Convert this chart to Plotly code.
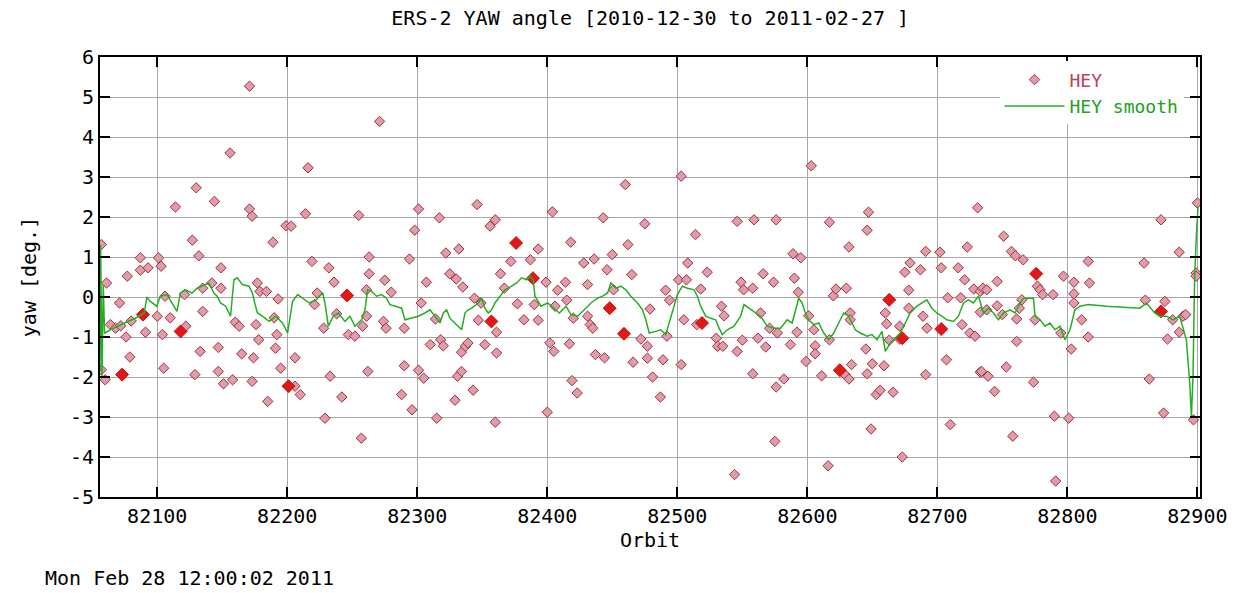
import plotly.graph_objects as go

# ---------------- data ----------------
hey_orbit = [
    82057, 82057, 82060, 82061, 82064, 82068, 82071, 82072, 82073, 82076, 82077, 82079, 82080,
    82087, 82087, 82089, 82091, 82093, 82100, 82101, 82103, 82104, 82105, 82106, 82110, 82114,
    82118, 82121, 82122, 82127, 82129, 82130, 82132, 82133, 82135, 82135, 82142, 82144, 82147,
    82147, 82149, 82149, 82151, 82156, 82158, 82160, 82163, 82165, 82171, 82171, 82173, 82173,
    82174, 82176, 82177, 82178, 82179, 82184, 82185, 82189, 82190, 82191, 82192, 82193, 82195,
    82199, 82201, 82203, 82206, 82206, 82210, 82214, 82216, 82219, 82221, 82223, 82229, 82228,
    82232, 82233, 82236, 82238, 82242, 82246, 82247, 82252, 82255, 82257, 82258, 82261, 82261,
    82262, 82263, 82263, 82271, 82274, 82275, 82276, 82280, 82288, 82290, 82290, 82294, 82296,
    82298, 82301, 82301, 82303, 82305, 82307, 82310, 82314, 82315, 82317, 82318, 82320, 82322,
    82325, 82329, 82330, 82331, 82332, 82334, 82334, 82335, 82337, 82339, 82343, 82344, 82346,
    82347, 82349, 82352, 82356, 82357, 82360, 82360, 82361, 82361, 82364, 82367, 82372, 82376,
    82377, 82382, 82387, 82389, 82390, 82393, 82393,
    82399, 82400, 82402, 82404, 82405, 82406, 82408, 82414, 82415, 82417, 82418, 82419, 82420,
    82423, 82428, 82431, 82431, 82433, 82435, 82436, 82437, 82443, 82444, 82446, 82448, 82450,
    82451, 82459, 82460, 82462, 82465, 82466, 82472, 82475, 82477, 82477, 82479, 82481, 82487,
    82489, 82491, 82492, 82494, 82501, 82503, 82503, 82505, 82507, 82508, 82514, 82515, 82518,
    82519, 82523, 82530, 82531, 82534, 82535, 82536, 82544, 82546, 82546, 82549, 82550, 82551,
    82558, 82558, 82559, 82562, 82564,
    82566, 82568, 82571, 82574, 82575, 82576, 82576, 82577, 82582, 82587, 82589, 82590, 82592,
    82593, 82595, 82599, 82601, 82603, 82605, 82606, 82606, 82611, 82616, 82617, 82617, 82620,
    82622, 82625, 82629, 82630, 82632, 82632, 82633, 82633, 82634, 82645, 82646, 82646, 82647,
    82649, 82650, 82653, 82656, 82659, 82660, 82661, 82663, 82663, 82666, 82671, 82671, 82673,
    82673, 82675, 82678, 82678, 82679, 82687, 82689, 82691, 82691, 82692, 82702, 82703, 82703,
    82707, 82708, 82710, 82716, 82718, 82719, 82721, 82723, 82725, 82728, 82729, 82731, 82733,
    82733,
    82733, 82734, 82735, 82738, 82738, 82739, 82744, 82746, 82746, 82750, 82751, 82753, 82757,
    82758, 82760, 82761, 82761, 82763, 82765, 82766, 82774, 82775, 82776, 82777, 82779, 82781,
    82789, 82790, 82791, 82795, 82797, 82801, 82803, 82805, 82805, 82805, 82811, 82816, 82816,
    82817, 82859, 82860, 82863, 82872, 82872, 82874, 82875, 82877, 82881, 82886, 82886, 82889,
    82891, 82897, 82899, 82899, 82900,
]
hey_yaw = [
    1.31, -1.82, -2.07, 0.35, -0.69, -0.78, -0.15, -0.72, -1.94, -1.00, 0.52, -1.50, -0.60,
    0.98, 0.67, -0.44, -0.88, 0.73, -0.48, 0.98, 0.77, -0.94, -1.78, 0.02, -0.52, 2.25,
    -0.86, 0.06, -0.73, 1.42, -1.94, 2.73, 1.03, -1.36, 0.22, -0.36, 0.35, 2.39, -1.26,
    -1.86, 0.73, 0.22, -2.17, 3.60, -2.07, -0.63, -0.73, -1.42, 5.27, 2.20, 2.02, -2.11,
    -1.52, -0.69, 0.35, -1.07, 0.14, 0.14, -2.61, 1.37, -0.52, -1.28, -0.94, -0.05, -1.78,
    1.78, -2.23, 1.77, -2.23, -1.52, -2.44, 2.08, 3.23, 0.89, -0.19, 0.10, -3.03, -0.78,
    0.73, -1.98, 0.37, -0.42, -2.50, 0.04, -0.94, -0.98, 2.04, -3.53, -0.73, -0.48, 0.18,
    -1.86, 1.00, 0.58, 4.39, -0.61, 0.42, -0.78, 0.12, -2.44, -1.72, -0.78, 0.95, -2.82,
    1.67, 2.20, -1.83, -0.15, -2.03, 0.37, -1.19, -0.55, -3.03, 1.98, -1.07, -1.22, 1.10,
    0.58, -2.58, 0.45, -1.98, 1.20, -1.86, -1.38, 0.25, -1.23, -1.15, -2.33, -0.03, 2.31,
    -0.58, -0.15, -1.19, 1.77, -0.61, 1.93, -3.13, -0.88, -1.40, 0.58, 0.22, 0.89, 1.35,
    -0.17, -0.57, 0.93, 0.47, -0.19, 1.20, -0.58,
    0.37, -2.88, -1.15, 2.13, -1.36, -0.23, 0.17, 0.37, -0.08, -1.17, 1.37, -2.09, -0.53,
    -2.40, 0.85, 0.31, -0.48, -0.69, -0.78, 0.95, -1.44, 1.98, -1.52, 0.68, -0.28, 1.06,
    0.18, -0.92, 2.81, 1.31, 0.56, -1.63, -1.05, 1.83, -1.23, -1.53, -0.30, -2.00, -2.50,
    -1.57, 0.17, -0.98, -0.08, 0.43, 3.02, -1.69, -0.57, 0.43, 0.85, 1.56, -0.69, 0.20,
    -0.65, 0.62, -1.03, -1.23, -0.23, -1.23, -0.47, -4.44, 1.89, -1.36, 0.37, -1.08, 0.18,
    0.22, -1.92, 1.93, -1.03, -0.40,
    0.58, -1.25, -0.78, 0.37, -3.61, 1.93, -2.25, -0.90, -2.05, -1.19, 1.08, 0.47, -0.88,
    0.12, 0.98, -1.61, -0.47, 3.28, -0.82, -1.22, -1.42, -1.97, -4.22, -1.07, 1.87, 0.03,
    0.20, -1.83, -1.94, 0.22, 1.25, -2.05, -0.40, -0.57, -1.69, -1.30, 1.67, -1.92, 2.12,
    -3.30, -1.67, -2.44, -2.33, -1.72, -0.40, -0.67, -0.07, -1.08, -2.38, -1.05, -0.73, -1.03,
    -4.00, 0.62, 0.17, -0.28, 0.85, 0.68, -0.48, 1.14, -1.94, -0.78, 1.12, 0.73, -0.80,
    -1.57, -0.02, -3.19, 0.73, -0.02, -0.69, 0.43, 1.25, -0.90, 0.20, -0.98, 2.23, 0.14,
    -1.88,
    -0.38, -1.86, 0.22, -0.32, 0.18, -1.98, -2.36, 0.39, -0.22, -0.44, 1.52, -1.75, 1.14,
    -3.48, 1.03, -0.55, -1.11, -0.28, -0.07, 0.93, -2.13, -0.57, 0.58, 0.27, 0.18, 0.06,
    0.06, -2.98, -4.60, -0.90, 0.52, -3.03, -1.30, -0.15, 0.08, 0.37, -0.57, 0.89, -1.00,
    0.35, 0.85, -0.08, -2.05, 1.93, -0.36, -2.90, -0.11, -1.05, -0.57, 1.12, -0.88, -0.48,
    -0.44, -3.07, 0.60, 0.52, 2.35,
]

# points where several HEY samples overlap (drawn solid red in the reference)
dense_orbit = [82073, 82089, 82118, 82201, 82246, 82357, 82376, 82389, 82448, 82459,
               82519, 82625, 82663, 82673, 82703, 82776, 82872]
dense_yaw = [-1.94, -0.44, -0.86, -2.23, 0.04, -0.61, 1.35, 0.47, -0.28, -0.92,
             -0.65, -1.83, -0.07, -1.03, -0.80, 0.58, -0.36]

smooth_orbit = [
    82056.0, 82056.5, 82057.5, 82058.5, 82059.5, 82060, 82065, 82075, 82085, 82090, 82092,
    82094.6, 82099.7, 82102.3, 82107.5, 82115.2, 82117.8, 82121.6, 82126.8, 82130.7, 82134.5,
    82139.7, 82143.6, 82146.1, 82148.7, 82152.6, 82156.4, 82159.0, 82161.6, 82165.5, 82170.6,
    82173.2, 82175.3, 82177.1, 82180.9, 82186.1, 82191.2, 82196.4, 82200.3, 82204.1, 82208.0,
    82211.9, 82217.0, 82222.2, 82227.3,
    82229.0, 82231.6, 82235.4, 82239.2, 82244.4, 82248.2, 82252.1, 82257.2, 82259.8, 82261.8,
    82264.9, 82268.7, 82272.6, 82276.4, 82279.0, 82282.8, 82288.0, 82290.5, 82295.7, 82300.8,
    82305.9, 82309.8, 82313.6, 82317.5, 82320.0, 82322.6, 82325.1, 82329.0, 82331.6, 82334.1,
    82336.7, 82339.2, 82341.8, 82346.9, 82349.5, 82352.0, 82354.6, 82357.2, 82359.7, 82363.6,
    82367.5, 82372.6, 82376.4, 82380.3, 82384.1, 82386.7, 82389.2, 82390.5,
    82395.2, 82400.3, 82405.4, 82409.3, 82414.4, 82418.2, 82423.4, 82428.5, 82433.6, 82438.7,
    82442.5, 82446.4, 82448.9, 82452.8, 82456.6, 82460.4, 82464.3, 82469.4, 82473.2, 82475.8,
    82478.4, 82483.5, 82487.3, 82491.1, 82495.0, 82500.1, 82503.9, 82507.8, 82512.9, 82515.4,
    82518.0, 82521.8, 82525.7, 82529.5, 82532.1, 82534.6, 82538.5, 82543.6, 82548.7, 82551.3,
    82555.1, 82560.2,
    82564.0, 82569.1, 82574.2, 82579.4, 82584.5, 82588.3, 82590.9, 82593.4, 82596.0, 82598.5,
    82601.1, 82604.9, 82608.8, 82612.6, 82616.5, 82620.3, 82624.1, 82628.0, 82631.8, 82634.4,
    82636.9, 82640.8, 82645.9, 82649.7, 82653.6, 82657.4, 82660.0, 82663.8, 82667.6, 82671.5,
    82675.3, 82679.1, 82684.3, 82688.1, 82691.9, 82695.8, 82699.6, 82703.4, 82707.3, 82712.4,
    82716.2, 82720.1, 82723.9, 82727.7,
    82731.6, 82735.5, 82739.3, 82743.1, 82747.0, 82750.8, 82755.9, 82759.8, 82763.6, 82766.2,
    82773.9, 82775.1, 82779.0, 82782.8, 82786.6, 82790.5, 82794.3, 82798.1, 82802.0, 82805.8,
    82809.7, 82816.0, 82830.1, 82855.7, 82860.8, 82867.2, 82871.0, 82876.2, 82881.3, 82886.4,
    82891.5, 82894.1, 82895.4, 82896.6, 82897.9, 82899.2, 82900.5,
]
smooth_yaw = [
    -1.85, 1.30, -2.00, 0.30, -0.90, -0.90, -0.80, -0.65, -0.50, -0.40, 0.00,
    -0.11, -0.23, 0.02, 0.06, -0.36, 0.10, 0.18, 0.10, 0.22, 0.27,
    0.35, 0.10, 0.02, -0.15, -0.23, -0.48, 0.43, 0.48, 0.31, 0.27,
    0.10, -0.19, -0.40, -0.48, -0.61, -0.48, -0.65, -0.90, -0.11, 0.06,
    -0.03, -0.15, -0.07, 0.10,
    -0.15, -0.73, -0.48, -0.40, -0.61, -0.48, -0.73, -0.57, -0.32, 0.18,
    0.14, 0.02, 0.06, -0.03, -0.19, -0.23, -0.28, -0.57, -0.53, -0.48,
    -0.40, -0.32, -0.48, -0.65, -0.40, -0.32, -0.53, -0.65, -0.73, -0.82,
    -0.40, -0.32, -0.28, -0.15, -0.03, -0.28, -0.40, -0.32, -0.15, 0.02,
    0.18, 0.27, 0.35, 0.48, 0.43, 0.52, 0.43, 0.02,
    -0.23, -0.15, -0.28, -0.40, -0.23, -0.44, -0.48, -0.32, -0.15, -0.03,
    0.02, 0.10, 0.35, 0.22, 0.27, 0.18, 0.02, -0.15, -0.32, -0.57,
    -0.90, -0.86, -0.82, -0.94, -0.48, 0.06, 0.27, 0.22, 0.18, 0.02,
    -0.23, -0.48, -0.53, -0.57, -0.78, -0.94, -0.82, -0.73, -0.48, -0.19,
    -0.28, -0.40,
    -0.48, -0.73, -0.78, -0.78, -0.57, -0.65, -0.36, -0.03, -0.15, -0.40,
    -0.57, -0.69, -0.65, -0.90, -1.07, -0.90, -0.65, -0.40, -0.48, -0.65,
    -0.82, -0.90, -0.98, -0.94, -1.07, -0.86, -1.36, -1.15, -1.03, -0.90,
    -0.65, -0.40, -0.23, -0.15, -0.07, -0.28, -0.40, -0.48, -0.57, -0.61,
    -0.48, -0.15, -0.07, -0.15,
    0.02, -0.40, -0.28, -0.40, -0.57, -0.40, -0.32, -0.40, -0.15, -0.03,
    -0.03, -0.48, -0.57, -0.73, -0.65, -0.82, -0.73, -1.07, -0.82, -0.32,
    -0.23, -0.19, -0.23, -0.28, -0.15, -0.40, -0.48, -0.48, -0.57, -0.48,
    -1.07, -2.15, -2.98, -1.98, 0.52, 1.52, 2.27,
]

x_ticks = [82100, 82200, 82300, 82400, 82500, 82600, 82700, 82800, 82900]
y_ticks = [-5, -4, -3, -2, -1, 0, 1, 2, 3, 4, 5, 6]

title_text = "ERS-2 YAW angle [2010-12-30 to 2011-02-27 ]"
stamp_text = "Mon Feb 28 12:00:02 2011"

FONT = "DejaVu Sans Mono"
FS = 20
HEY_COLOR = "#a82c44"
SMOOTH_COLOR = "#22b022"

fig = go.Figure()
fig.add_trace(go.Scatter(
    x=hey_orbit, y=hey_yaw, mode="markers",
    name="<span style='color:#c0405a'>HEY</span>",
    marker=dict(symbol="diamond", size=8, color="#dc9ea8",
                line=dict(color=HEY_COLOR, width=1)),
))
fig.add_trace(go.Scatter(
    x=dense_orbit, y=dense_yaw, mode="markers", showlegend=False,
    marker=dict(symbol="diamond", size=10, color="#e01818",
                line=dict(color="#d01010", width=1)),
))
fig.add_trace(go.Scatter(
    x=smooth_orbit, y=smooth_yaw, mode="lines",
    name="<span style='color:#22a022'>HEY smooth</span>",
    line=dict(color=SMOOTH_COLOR, width=1.5),
))

axis_common = dict(
    showline=True, linecolor="black", linewidth=2, mirror="allticks",
    ticks="inside", ticklen=10, tickwidth=1.5, tickcolor="black",
    showgrid=True, gridcolor="#a8a8a8", gridwidth=1, zeroline=False,
    tickfont=dict(family=FONT, size=FS, color="black"),
)

fig.update_layout(
    width=1248, height=593,
    margin=dict(l=100, r=48, t=57, b=96),
    paper_bgcolor="white", plot_bgcolor="white",
    font=dict(family=FONT, size=FS, color="black"),
    title=dict(text=title_text, x=0.521, xanchor="center", y=0.97, yanchor="middle",
               yref="container", font=dict(family=FONT, size=FS, color="black")),
    xaxis=dict(range=[82056, 82902], tickvals=x_ticks,
               ticktext=[str(v) for v in x_ticks],
               title=dict(text="Orbit", standoff=6, font=dict(family=FONT, size=FS)),
               **axis_common),
    yaxis=dict(range=[-5, 6], tickvals=y_ticks,
               ticktext=[str(v) for v in y_ticks],
               title=dict(text="yaw [deg.]", standoff=28, font=dict(family=FONT, size=FS)),
               **axis_common),
    legend=dict(x=0.985, xanchor="right", y=0.99, yanchor="top",
                bgcolor="white", borderwidth=0,
                font=dict(family=FONT, size=18), tracegroupgap=0,
                itemwidth=60),
    annotations=[dict(text=stamp_text, xref="paper", yref="paper",
                      x=-0.052, y=-0.184, xanchor="left", yanchor="middle",
                      showarrow=False, font=dict(family=FONT, size=FS, color="black"))],
)

fig.write_html("out.html",
               config={"displayModeBar": False},
               post_script="document.body.style.margin='0';document.body.style.padding='0';")
